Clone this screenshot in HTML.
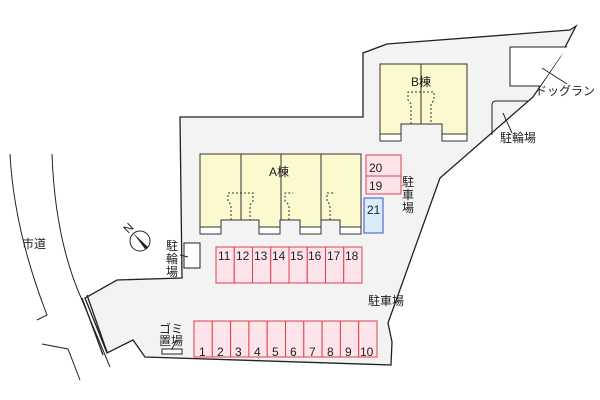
<!DOCTYPE html>
<html><head><meta charset="utf-8"><style>
html,body{margin:0;padding:0;background:#fff;}
svg{display:block;}
text{font-family:"Liberation Sans","Noto Sans CJK JP",sans-serif;font-size:12px;fill:#222;}
</style></head><body>
<svg width="600" height="400" viewBox="0 0 600 400" xmlns="http://www.w3.org/2000/svg">
<g fill="none" stroke="#222" stroke-width="1">
<path d="M10,154 Q14,230 47,315 L37,320"/>
<path d="M52,154 Q55,240 82,300 L110,367"/>
<path d="M42,344 L68,349 L80,380"/>
</g>
<path d="M180,117 L363,117 L363,53 L387,44 L570,30 L576,26 L560,57 L533,97 L440,178 L388,323 L392,342 L391,365 L145,357 L133,340 L107,353 L85,298 L117,280 L182,278 Z" fill="#f3f3f3" stroke="#222" stroke-width="1.3"/>
<path d="M82,298 L103,355 M87,295 L107,352" stroke="#222" stroke-width="1.3" fill="none"/>
<path d="M567,47 L510,47 L510,86 L540,86" fill="#fff" stroke="#222"/>
<path d="M542,68 L567,84" stroke="#222"/>
<path d="M492,135 L492,105 Q492,101 496,101 L529,101" fill="none" stroke="#222"/>
<path d="M503,113 L512,133" stroke="#222"/>
<path d="M380,64 L467,64 L467,134 L442,134 L442,124 L401,124 L401,134 L380,134 Z" fill="#fdf9cf" stroke="#333"/>
<rect x="380" y="134" width="21" height="7" fill="#fff" stroke="#333"/>
<rect x="442" y="134" width="25" height="7" fill="#fff" stroke="#333"/>
<line x1="421" y1="64" x2="421" y2="124" stroke="#333"/>
<path d="M411,124 L411,104 L408,100 L408,92 L434,92 L434,100 L431,104 L431,124" fill="none" stroke="#333" stroke-dasharray="2,2"/>
<path d="M200,154 L361,154 L361,227 L340,227 L340,220 L321,220 L321,227 L300,227 L300,220 L280,220 L280,227 L259,227 L259,220 L221,220 L221,227 L200,227 Z" fill="#fdf9cf" stroke="#333"/>
<rect x="200" y="227" width="21" height="7" fill="#fff" stroke="#333"/>
<rect x="259" y="227" width="21" height="7" fill="#fff" stroke="#333"/>
<rect x="300" y="227" width="21" height="7" fill="#fff" stroke="#333"/>
<rect x="340" y="227" width="21" height="7" fill="#fff" stroke="#333"/>
<g stroke="#333"><line x1="241" y1="154" x2="241" y2="220"/><line x1="281" y1="154" x2="281" y2="220"/><line x1="321" y1="154" x2="321" y2="220"/></g>
<g fill="none" stroke="#333" stroke-dasharray="2,2">
<path d="M231,220 L231,205 L228,201 L228,193 L253,193 L253,201 L250,205 L250,220"/>
<path d="M289,220 L289,205 L285,201 L285,193 L293,193"/>
<path d="M330,220 L330,205 L327,201 L327,193 L333,193"/>
</g>
<text x="269" y="176" font-size="13">A棟</text>
<text x="411" y="86" font-size="13">B棟</text>
<rect x="366" y="155" width="35" height="21" fill="#fde3ea" stroke="#e0404c"/>
<rect x="366" y="176" width="35" height="18" fill="#fde3ea" stroke="#e0404c"/>
<text x="369" y="172" font-size="13">20</text>
<text x="369" y="190" font-size="13">19</text>
<rect x="364" y="198" width="19" height="35" fill="#d8ecfb" stroke="#3f50c8"/>
<text x="367" y="214" font-size="13">21</text>
<g fill="#fde3ea" stroke="#e0404c">
<rect x="216" y="247" width="18.25" height="36"/><rect x="234.25" y="247" width="18.25" height="36"/><rect x="252.5" y="247" width="18.25" height="36"/><rect x="270.75" y="247" width="18.25" height="36"/><rect x="289" y="247" width="18.25" height="36"/><rect x="307.25" y="247" width="18.25" height="36"/><rect x="325.5" y="247" width="18.25" height="36"/><rect x="343.75" y="247" width="18.25" height="36"/>
</g>
<g font-size="13"><text x="218" y="260">11</text><text x="236" y="260">12</text><text x="254" y="260">13</text><text x="272" y="260">14</text><text x="290" y="260">15</text><text x="308" y="260">16</text><text x="327" y="260">17</text><text x="345" y="260">18</text></g>
<g fill="#fde3ea" stroke="#e0404c">
<rect x="194" y="321" width="18.3" height="36"/><rect x="212.3" y="321" width="18.3" height="36"/><rect x="230.6" y="321" width="18.3" height="36"/><rect x="248.9" y="321" width="18.3" height="36"/><rect x="267.2" y="321" width="18.3" height="36"/><rect x="285.5" y="321" width="18.3" height="36"/><rect x="303.8" y="321" width="18.3" height="36"/><rect x="322.1" y="321" width="18.3" height="36"/><rect x="340.4" y="321" width="18.3" height="36"/><rect x="358.7" y="321" width="18.3" height="36"/>
</g>
<g font-size="13"><text x="199" y="356">1</text><text x="217" y="356">2</text><text x="235" y="356">3</text><text x="254" y="356">4</text><text x="272" y="356">5</text><text x="290" y="356">6</text><text x="309" y="356">7</text><text x="327" y="356">8</text><text x="345" y="356">9</text><text x="360" y="356">10</text></g>
<rect x="184" y="243" width="16" height="25" fill="#fff" stroke="#222"/>
<line x1="180" y1="255" x2="188" y2="257" stroke="#222"/>
<g font-size="12"><text x="166" y="250">駐</text><text x="166" y="263">輪</text><text x="166" y="276">場</text></g>
<rect x="162" y="349" width="20" height="5" fill="#fff" stroke="#222"/>
<line x1="172" y1="349" x2="176" y2="341" stroke="#222"/>
<g font-size="11"><text x="159" y="333">ゴ</text><text x="171" y="333">ミ</text><text x="159" y="345">置</text><text x="171" y="345">場</text></g>
<text x="368" y="305" font-size="13">駐車場</text>
<g font-size="12"><text x="402" y="186">駐</text><text x="402" y="199">車</text><text x="402" y="212">場</text></g>
<text x="500" y="142" font-size="12">駐輪場</text>
<text x="535" y="95" font-size="12">ドッグラン</text>
<text x="22" y="248" font-size="12">市道</text>
<circle cx="140" cy="241" r="10" fill="#fff" stroke="#222"/>
<path d="M130,230 L150,251 L146,247 L136,236 Z" fill="#222"/>
<path d="M133,233 L148,247 L145,249 Z" fill="#222"/>
<text x="125" y="232" font-size="9" transform="rotate(-45 129 229)">N</text>
</svg>
</body></html>
